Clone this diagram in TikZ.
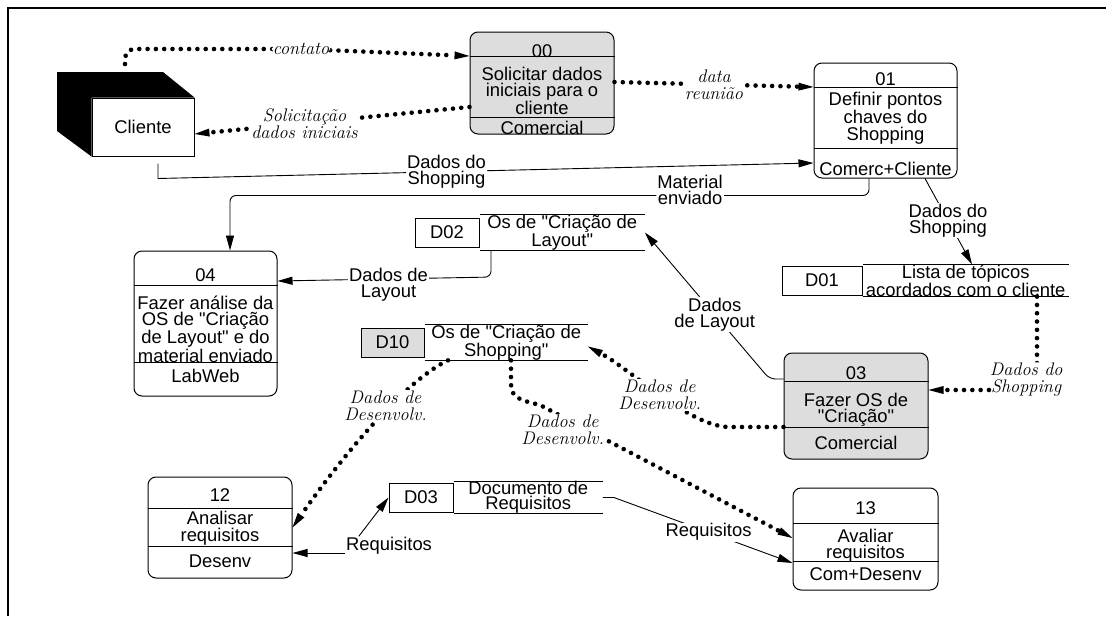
\documentclass[tikz,border=0pt]{standalone}
\usepackage{fontspec}
\usepackage{tikz}
\usetikzlibrary{arrows.meta,positioning}
\newfontfamily\arial{Liberation Sans}
\definecolor{boxgray}{RGB}{221,221,221}
\tikzstyle{procbox} = [draw, rounded corners=8pt, line width=1pt, inner sep=0pt]
\tikzstyle{divider} = [line width=1pt]
\tikzstyle{boxtext} = [font=\arial\fontsize{18.4}{16.5}\selectfont, align=center, inner sep=0pt]
\tikzstyle{storeid} = [draw, line width=1pt, minimum height=29pt, inner sep=0pt, font=\arial\fontsize{18.4}{16}\selectfont]
\tikzstyle{storetext} = [minimum height=29pt, inner sep=0pt, align=center, font=\arial\fontsize{18.4}{15}\selectfont]
\tikzstyle{flow} = [line width=0.9pt, -{Triangle[length=15pt,width=8pt]}]
\tikzstyle{dotflow} = [line width=4.6pt, line cap=round, dash pattern=on 0pt off 8.3pt, -{Triangle[length=15pt,width=8pt,line width=0pt]}]
\tikzstyle{flowlabel} = [font=\arial\fontsize{18.4}{16}\selectfont, align=center, fill=white, inner sep=1pt]
\tikzstyle{dotlabel} = [font=\fontsize{18.2}{17}\selectfont\itshape, align=center, fill=white, inner sep=1pt]

\begin{document}
\begin{tikzpicture}[x=1pt, y=-1pt]
\useasboundingbox (0,0) rectangle (1106,616);
\draw[line width=1.5pt] (8,616) -- (8,8) -- (1106,8);

% external entity
\node[draw, line width=1pt, fill=white, minimum width=102pt, minimum height=58pt, font=\arial\fontsize{18.4}{16}\selectfont] (cliente) at (143,127) {Cliente};
\fill (57,72) -- (163,72) -- (cliente.north east) -- (cliente.north west) -- (cliente.south west) -- (57,131) -- cycle;

% processes
\node[procbox, fill=boxgray, minimum width=144pt, minimum height=102pt] (p00) at (542,83) {};
\draw[divider] (p00.west |- 0,56) -- (p00.east |- 0,56) (p00.west |- 0,117) -- (p00.east |- 0,117);
\node[boxtext] (p00-id) at (542,51) {00};
\node[boxtext] (p00-txt) at (542,91) {Solicitar dados\\iniciais para o\\cliente};
\node[boxtext] (p00-who) at (542,128) {Comercial};

\node[procbox, minimum width=143pt, minimum height=115pt] (p01) at (885.5,120.5) {};
\draw[divider] (p01.west |- 0,87) -- (p01.east |- 0,87) (p01.west |- 0,148) -- (p01.east |- 0,148);
\node[boxtext] (p01-id) at (885.5,79) {01};
\node[boxtext] (p01-txt) at (885.5,118) {Definir pontos\\chaves do\\Shopping};
\node[boxtext] (p01-who) at (885.5,169) {Comerc+Cliente};

\node[procbox, fill=boxgray, minimum width=144pt, minimum height=106pt] (p03) at (856,406) {};
\draw[divider] (p03.west |- 0,381) -- (p03.east |- 0,381) (p03.west |- 0,427) -- (p03.east |- 0,427);
\node[boxtext] (p03-id) at (856,373.5) {03};
\node[boxtext] (p03-txt) at (856,410) {Fazer OS de\\"Criação"};
\node[boxtext] (p03-who) at (856,442.5) {Comercial};

\node[procbox, minimum width=143pt, minimum height=145pt] (p04) at (205.5,323.5) {};
\draw[divider] (p04.west |- 0,285) -- (p04.east |- 0,285) (p04.west |- 0,362) -- (p04.east |- 0,362);
\node[boxtext] (p04-id) at (205.5,275) {04};
\node[boxtext] (p04-txt) at (205.5,329) {Fazer análise da\\OS de "Criação\\de Layout" e do\\material enviado};
\node[boxtext] (p04-who) at (205.5,376) {LabWeb};

\node[procbox, minimum width=144pt, minimum height=101pt] (p12) at (220,527.5) {};
\draw[divider] (p12.west |- 0,508) -- (p12.east |- 0,508) (p12.west |- 0,546) -- (p12.east |- 0,546);
\node[boxtext] (p12-id) at (220,495) {12};
\node[boxtext] (p12-txt) at (220,528) {Analisar\\requisitos};
\node[boxtext] (p12-who) at (220,561.5) {Desenv};

\node[procbox, minimum width=145pt, minimum height=102pt] (p13) at (865.5,539) {};
\draw[divider] (p13.west |- 0,523) -- (p13.east |- 0,523) (p13.west |- 0,561) -- (p13.east |- 0,561);
\node[boxtext] (p13-id) at (865.5,508.5) {13};
\node[boxtext] (p13-txt) at (865.5,545.5) {Avaliar\\requisitos};
\node[boxtext] (p13-who) at (865.5,574) {Com+Desenv};

% data stores
\node[storeid, minimum width=64pt] (d02) at (447,232.5) {D02};
\node[storetext, minimum width=165pt, right=0pt of d02] (d02t) {Os de "Criação de\\Layout"};
\draw[divider] (d02t.north west) -- (d02t.north east) (d02t.south west) -- (d02t.south east);

\node[storeid, fill=boxgray, minimum width=63pt] (d10) at (392.5,342.5) {D10};
\node[storetext, minimum width=163pt, right=0pt of d10] (d10t) {Os de "Criação de\\Shopping"};
\draw[divider] (d10t.north west) -- (d10t.north east) (d10t.south west) -- (d10t.south east);

\node[storeid, minimum width=80pt] (d01) at (822,280.5) {D01};
\node[storetext, minimum width=206pt, right=0pt of d01] (d01t) {Lista de tópicos\\acordados com o cliente};
\draw[divider] (d01t.north west) -- (d01t.north east) (d01t.south west) -- (d01t.south east);

\node[storeid, minimum width=64pt] (d03) at (421,497.5) {D03};
\node[storetext, minimum width=149pt, right=0pt of d03] (d03t) {Documento de\\Requisitos};
\draw[divider] (d03t.north west) -- (d03t.north east) (d03t.south west) -- (d03t.south east);

% flows
\coordinate (cli-top) at (125,64);
\draw[dotflow, rounded corners=10pt] (cli-top) |- (301,49) node[dotlabel] (l-contato) {contato} -- (p00.west |- 0,56);
\draw[dotflow] (p00.west |- 0,107) -- node[dotlabel, pos=0.6] {Solicitação\\dados iniciais} (cliente.east |- 0,134);
\draw[dotflow] (p00.east |- 0,82) -- node[dotlabel] {data\\reunião} (p01.west |- 0,87);
\draw[flow] ([xshift=15pt,yshift=-7pt]cliente.south) -- ++(0,15) -- node[flowlabel, pos=0.44] {Dados do\\Shopping} (p01.west |- 0,163);
\draw[flow, rounded corners=6pt] ([xshift=-16.5pt]p01.south) -- ++(0,17) -| node[flowlabel, pos=0.14, yshift=6pt] {Material\\enviado} ([xshift=24.5pt]p04.north);
\draw[flow] ([xshift=39.5pt]p01.south) -- node[flowlabel, pos=0.49] {Dados do\\Shopping} (d01t.north -| 972,0);
\draw[dotflow, rounded corners=20pt] (d01t.south -| 1037,0) |- node[dotlabel, pos=0.55, yshift=10pt] {Dados do\\Shopping} (p03.east |- 0,390);
\draw[flow, rounded corners=6pt] (p03.west |- 0,379) -- ++(-14,0) -- node[flowlabel, pos=0.44] {Dados\\de Layout} (d02t.east);
\draw[flow, rounded corners=6pt] (d02t.south -| 491,0) -- ++(0,27) -- node[flowlabel, pos=0.48, yshift=-6pt] {Dados de\\Layout} (p04.east |- 0,281);
\draw[dotflow] (p03.west |- 0,427) -- ++(-54,0) .. controls (690,427) and (630,369) .. node[dotlabel] {Dados de\\Desenvolv.} ([yshift=-4pt]d10t.east);
\draw[dotflow] (d10t.south -| 448,0) .. controls (410,378) and (350,445) .. node[dotlabel, xshift=8pt, yshift=14pt] {Dados de\\Desenvolv.} (p12.east);
\draw[dotflow] (d10t.south -| 511,0) -- (511,384) .. controls (511,398) and (520,400) .. (540,405) -- node[dotlabel, pos=0.09, yshift=-13pt] {Dados de\\Desenvolv.} (p13.west |- 0,538);
\draw[flow] (d03t.east) -- ++(11,0) -- node[flowlabel, pos=0.53] {Requisitos} (p13.west |- 0,563);
\node[flowlabel] (req) at (389,546) {Requisitos};
\draw[flow] (req.west |- 0,553) -- (p12.east |- 0,553);
\draw[flow] ([xshift=14pt]req.north west) -- (d03.west);
\end{tikzpicture}
\end{document}
